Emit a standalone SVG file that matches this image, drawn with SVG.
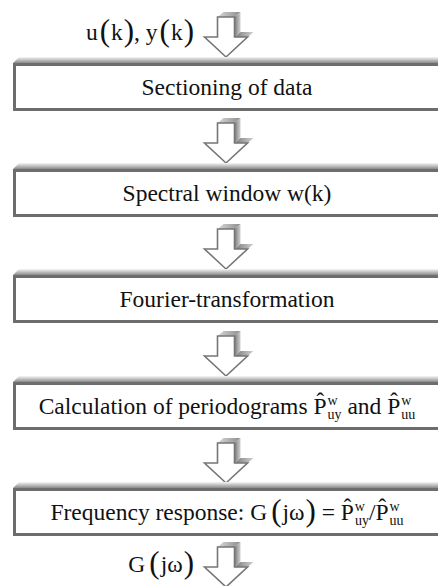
<svg xmlns="http://www.w3.org/2000/svg" xmlns:xlink="http://www.w3.org/1999/xlink" width="438" height="586" viewBox="0 0 438 586">
<style>
text{font-family:'Liberation Serif','DejaVu Serif',serif;font-size:23.5px;fill:#111}
.sc{font-size:14px}
.bp{font-size:31px}
.frame{fill:#fff;stroke:#6d6d6d;stroke-width:3}
.bev{fill:url(#bevel)}
.front{fill:#fff;stroke:#767676;stroke-width:1.6;stroke-linejoin:miter}
</style>
<defs>
<linearGradient id="bevel" x1="0" y1="0" x2="0" y2="1">
<stop offset="0" stop-color="#f6f6f6"/><stop offset="1" stop-color="#8a8a8a"/>
</linearGradient>
<linearGradient id="topf" x1="0" y1="0" x2="1" y2="0">
<stop offset="0" stop-color="#d8d8d8"/><stop offset="1" stop-color="#8c8c8c"/>
</linearGradient>
<linearGradient id="sidef" x1="0" y1="0" x2="1" y2="0">
<stop offset="0" stop-color="#7a7a7a"/><stop offset="1" stop-color="#d0d0d0"/>
</linearGradient>
<g id="arrow">
<polygon points="-8.5,0 -2.5,-5 14.5,-5 8.5,0" fill="url(#topf)"/>
<polygon points="8.5,0 14.5,-5 14.5,15 8.5,20" fill="url(#sidef)"/>
<polygon points="8.5,20 14.5,15 27.5,15 21.5,20" fill="url(#sidef)"/>
<polygon points="21.5,20 27.5,15 6,35 0,40" fill="#cfcfcf"/>
<polygon class="front" points="-8.5,0 8.5,0 8.5,20 21.5,20 0,40 -21.5,20 -8.5,20"/>
</g>
</defs>
<rect width="438" height="586" fill="#fff"/>

<g id="connectors">
<use xlink:href="#arrow" x="226" y="17"/>
<use xlink:href="#arrow" x="226" y="123"/>
<use xlink:href="#arrow" x="226" y="229"/>
<use xlink:href="#arrow" x="226" y="336"/>
<use xlink:href="#arrow" x="226" y="443"/>
<use xlink:href="#arrow" x="226" y="547"/>
</g>

<g id="input-label">
<text x="194" y="40" text-anchor="end">u<tspan class="bp" dx="2" dy="1">(</tspan><tspan dx="1" dy="-1">k</tspan><tspan class="bp" dx="1" dy="1">)</tspan><tspan dy="-1">, y</tspan><tspan class="bp" dx="2" dy="1">(</tspan><tspan dx="1" dy="-1">k</tspan><tspan class="bp" dx="1" dy="1">)</tspan></text>
</g>

<g id="box1">
<polygon class="bev" points="13,63 19,57 441,57 441,63"/>
<rect class="frame" x="14.5" y="64.5" width="430" height="45"/>
<text x="227" y="95" text-anchor="middle">Sectioning of data</text>
</g>

<g id="box2">
<polygon class="bev" points="13,169 19,163 441,163 441,169"/>
<rect class="frame" x="14.5" y="170.5" width="430" height="45"/>
<text x="227" y="201" text-anchor="middle">Spectral window w(k)</text>
</g>

<g id="box3">
<polygon class="bev" points="13,275 19,269 441,269 441,275"/>
<rect class="frame" x="14.5" y="276.5" width="430" height="45"/>
<text x="227" y="307" text-anchor="middle">Fourier-transformation</text>
</g>

<g id="box4">
<polygon class="bev" points="13,382 19,376 441,376 441,382"/>
<rect class="frame" x="14.5" y="383.5" width="430" height="45"/>
<text x="227" y="414" text-anchor="middle">Calculation of periodograms P̂<tspan class="sc" dx="1" dy="-9">w</tspan><tspan class="sc" dx="-10.1" dy="14">uy</tspan><tspan dy="-5"> and P̂</tspan><tspan class="sc" dx="1" dy="-9">w</tspan><tspan class="sc" dx="-10.1" dy="14">uu</tspan></text>
</g>

<g id="box5">
<polygon class="bev" points="13,488 19,482 441,482 441,488"/>
<rect class="frame" x="14.5" y="489.5" width="430" height="45"/>
<text x="227" y="520" text-anchor="middle">Frequency response: G<tspan class="bp" dx="4" dy="1">(</tspan><tspan dx="1" dy="-1">jω</tspan><tspan class="bp" dx="1" dy="1">)</tspan><tspan dy="-1"> = P̂</tspan><tspan class="sc" dx="1" dy="-9">w</tspan><tspan class="sc" dx="-10.1" dy="14">uy</tspan><tspan dy="-5">/P̂</tspan><tspan class="sc" dx="1" dy="-9">w</tspan><tspan class="sc" dx="-10.1" dy="14">uu</tspan></text>
</g>

<g id="output-label">
<text x="194" y="572" text-anchor="end">G<tspan class="bp" dx="4" dy="1">(</tspan><tspan dx="1" dy="-1">jω</tspan><tspan class="bp" dx="1" dy="1">)</tspan></text>
</g>
</svg>
